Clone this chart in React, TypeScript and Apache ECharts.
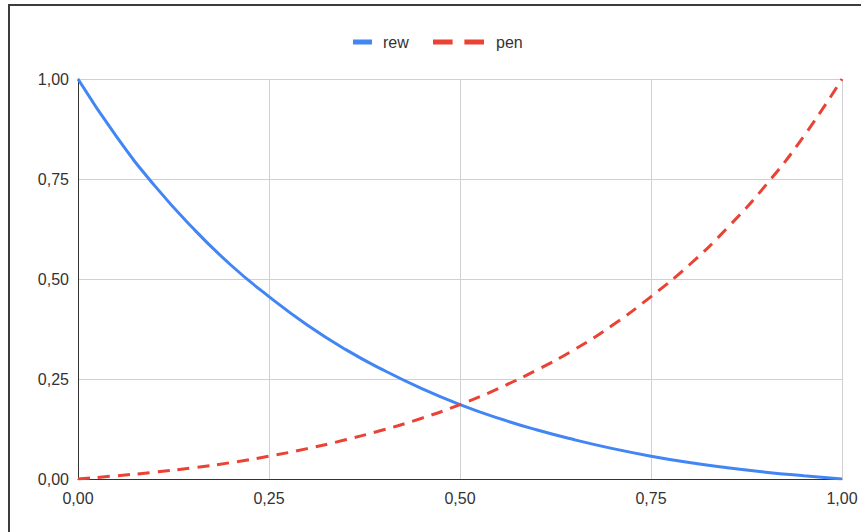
import React, { useEffect, useRef } from "react";
import * as echarts from "echarts";

// Sample positions along the x axis
const xValues = [0, 0.05, 0.1, 0.15, 0.2, 0.25, 0.3, 0.35, 0.4, 0.45, 0.5, 0.55, 0.6, 0.65, 0.7, 0.75, 0.8, 0.85, 0.9, 0.95, 1];

// Reward curve (decreasing)
const rewValues = [1.0, 0.857, 0.734, 0.628, 0.535, 0.456, 0.385, 0.324, 0.272, 0.226, 0.186, 0.152, 0.123, 0.098, 0.076, 0.057, 0.041, 0.028, 0.017, 0.008, 0.0];

// Penalty curve (increasing)
const penValues = [0.0, 0.008, 0.017, 0.028, 0.041, 0.057, 0.076, 0.098, 0.123, 0.152, 0.186, 0.226, 0.272, 0.324, 0.385, 0.456, 0.535, 0.628, 0.734, 0.857, 1.0];

const seriesNames = ["rew", "pen"];

const FONT = "'Liberation Sans', Arial, sans-serif";
const TEXT_COLOR = "#333333";
const fmt = (v: number) => v.toFixed(2).replace(".", ",");

export default function App() {
  const ref = useRef<HTMLDivElement>(null);

  useEffect(() => {
    if (!ref.current) return;
    const chart = echarts.init(ref.current, undefined, { renderer: "svg" });

    const pairs = (ys: number[]) => xValues.map((x, i) => [x, ys[i]]);

    chart.setOption({
      animation: false,
      backgroundColor: "#ffffff",
      textStyle: { fontFamily: FONT },
      graphic: [
        {
          type: "rect",
          shape: { x: 9, y: 5, width: 1000, height: 1000 },
          style: { fill: "none", stroke: "#3c3c3c", lineWidth: 2 },
          silent: true,
          z: 100,
        },
      ],
      legend: [
        {
          data: [seriesNames[0]],
          left: 353,
          top: 34,
          padding: 0,
          itemWidth: 19,
          itemHeight: 5,
          icon: "rect",
          itemStyle: { borderWidth: 0 },
          textStyle: { fontSize: 16, color: TEXT_COLOR, fontFamily: FONT, padding: [0, 0, 0, 6] },
        },
        {
          data: [seriesNames[1]],
          left: 433,
          top: 34,
          padding: 0,
          itemWidth: 51,
          itemHeight: 5,
          icon: "path://M0 0H20V5H0ZM32 0H52V5H32Z",
          itemStyle: { borderWidth: 0 },
          textStyle: { fontSize: 16, color: TEXT_COLOR, fontFamily: FONT, padding: [0, 0, 0, 7] },
        },
      ],
      grid: { left: 78, top: 79, right: 19, bottom: 53, containLabel: false },
      xAxis: {
        type: "value",
        min: 0,
        max: 1,
        interval: 0.25,
        axisLine: { show: true, lineStyle: { color: "#333333", width: 1 } },
        axisTick: { show: false },
        axisLabel: { fontSize: 16, color: TEXT_COLOR, fontFamily: FONT, margin: 11, formatter: fmt },
        splitLine: { show: true, lineStyle: { color: "#d0d0d0", width: 1 } },
      },
      yAxis: {
        type: "value",
        min: 0,
        max: 1,
        interval: 0.25,
        axisLine: { show: true, lineStyle: { color: "#333333", width: 1 } },
        axisTick: { show: false },
        axisLabel: { fontSize: 16, color: TEXT_COLOR, fontFamily: FONT, margin: 9, formatter: fmt },
        splitLine: { show: true, lineStyle: { color: "#d0d0d0", width: 1 } },
      },
      series: [
        {
          name: seriesNames[0],
          type: "line",
          data: pairs(rewValues),
          smooth: true,
          showSymbol: false,
          color: "#4285F4",
          lineStyle: { color: "#4285F4", width: 3 },
        },
        {
          name: seriesNames[1],
          type: "line",
          data: pairs(penValues),
          smooth: true,
          showSymbol: false,
          color: "#EA4335",
          lineStyle: { color: "#EA4335", width: 3, type: [12, 8], cap: "butt" },
        },
      ],
    });

    return () => chart.dispose();
  }, []);

  return (
    <div
      ref={ref}
      style={{ position: "fixed", left: 0, top: 0, width: 861, height: 532 }}
    />
  );
}
